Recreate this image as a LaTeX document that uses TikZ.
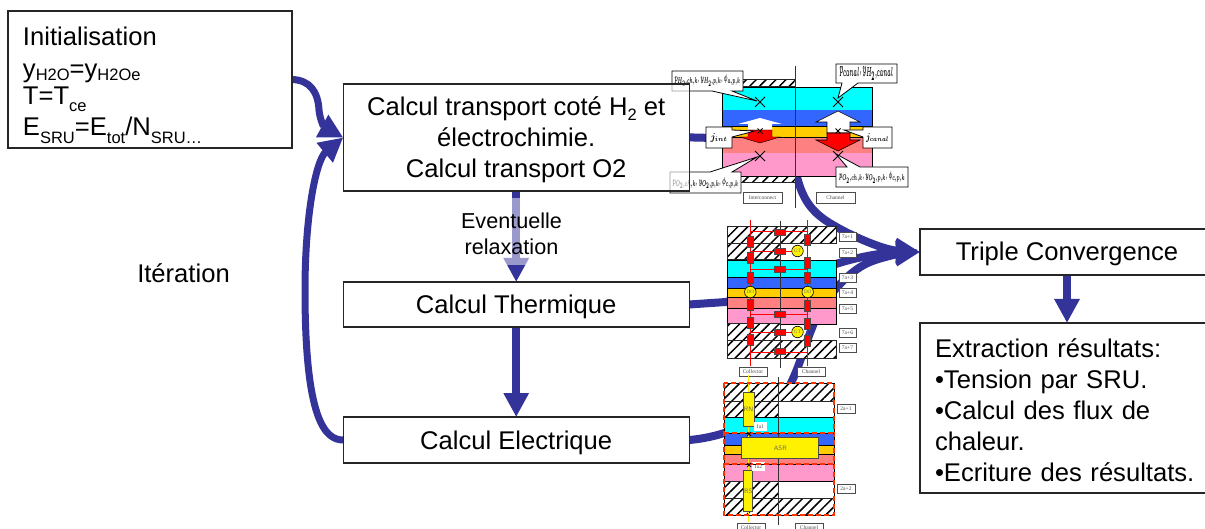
\documentclass[tikz,border=0pt]{standalone}
\usepackage{fontspec}
\usepackage{graphicx}
\setmainfont{Liberation Sans}
\newfontfamily\tinyserif{Liberation Serif}
\usetikzlibrary{arrows.meta,patterns.meta,calc}
\pgfdeclarelayer{flowlayer}
\pgfdeclarelayer{schem}
\pgfsetlayers{flowlayer,schem,main}
\definecolor{flowblue}{HTML}{333399}
\definecolor{cCyan}{HTML}{00FFFF}
\definecolor{cBlue}{HTML}{3366FF}
\definecolor{cOrange}{HTML}{FFCC00}
\definecolor{cSalmon}{HTML}{FF8080}
\definecolor{cPink}{HTML}{FF99CC}
\definecolor{dashred}{HTML}{FF3300}
\newcommand\sbs[2]{\raisebox{-#1pt}{\fontsize{16.5}{17}\selectfont #2}}
\newcommand\fsz{\fontsize{25.6}{31}\selectfont}
\newcommand\fitbub[2]{\resizebox{#1pt}{7pt}{#2}}
\tikzset{
  mainbox/.style={draw=black!85,line width=1.1pt,fill=white,fill opacity=.6,text opacity=1,inner sep=0pt,outer sep=0pt,font=\fsz,align=center},
  oneline/.style={text height=23pt,text depth=5pt},
  flow/.style={draw=flowblue,line width=8pt,-{Triangle[length=24pt,width=24pt]}},
  flowthin/.style={draw=flowblue,line width=7pt,-{Triangle[length=24pt,width=24pt]}},
  hatch/.style={draw=black!85,line width=1pt,preaction={fill=white},pattern={Lines[angle=45,distance=7pt,line width=1.5pt]},pattern color=black},
  band/.style={draw=black,line width=.8pt},
  bubble/.style={draw=black,line width=.8pt,fill=white},
  bubtext/.style={inner sep=0pt,font=\fontsize{6.5}{7}\selectfont\boldmath},
  bubbig/.style={inner sep=0pt,font=\fontsize{9}{9}\selectfont\boldmath},
  tag/.style={draw=black!70,line width=.7pt,fill=white,inner sep=0pt,outer sep=0pt,font=\fontsize{5.5}{6}\selectfont\tinyserif,text=black!70},
  resv/.style={draw=black!70,line width=.5pt,fill=red,minimum width=6pt,minimum height=11pt,inner sep=0pt},
  resh/.style={draw=black!70,line width=.5pt,fill=red,minimum width=11pt,minimum height=6pt,inner sep=0pt},
  probe/.style={circle,draw=black,line width=.6pt,fill=yellow,minimum size=11.5pt,inner sep=0pt,font=\fontsize{5}{5}\selectfont\tinyserif,text=black!60},
  yellowbox/.style={draw=black!70,line width=.8pt,fill=yellow,inner sep=0pt,font=\fontsize{6.5}{7}\selectfont\sffamily,text=black!60},
  cross/.style={line width=.9pt,draw=black},
}
\begin{document}
\begin{tikzpicture}[x=1pt,y=-1pt]
\useasboundingbox (0,0) rectangle (1205,529);
\clip (0,0) rectangle (1205,529);

% ---------- main boxes ----------
\node[mainbox,minimum width=284pt,minimum height=137pt,text width=254pt,align=left] (init) at (150,79.5)
 {\lineskiplimit=-100pt\fontsize{25.6}{27}\selectfont \rule{0pt}{30pt}Initialisation\\[5pt]
  y\sbs{3}{H2O}=y\sbs{3}{H2Oe}\\
  T=T\sbs{7}{ce}\\
  E\sbs{8}{SRU}=E\sbs{8}{tot}/N\sbs{8}{SRU…}};
\node[mainbox,minimum width=346pt,minimum height=107pt] (trans) at (516.2,137.5)
 {\rule{0pt}{24pt}Calcul transport coté H\sbs{5}{2} et\\électrochimie.\\Calcul transport O2};
\node[mainbox,oneline,minimum width=346pt,minimum height=45pt] (therm) at (516.2,304.5) {Calcul Thermique};
\node[mainbox,oneline,minimum width=346pt,minimum height=46pt] (elec) at (516.2,440) {Calcul Electrique};
\node[mainbox,oneline,minimum width=294pt,minimum height=46pt] (triple) at (1067,252) {Triple Convergence};
\node[mainbox,minimum width=294pt,minimum height=170pt,text width=264pt,align=left] (extr) at (1067,408)
 {\rule{0pt}{23pt}Extraction résultats:\\•Tension par SRU.\\•Calcul des flux de\\chaleur.\\•Ecriture des résultats.};
\node[inner sep=0pt,font=\fsz] (iter) at (183.5,273.5) {Itération};
\node[fill=white,fill opacity=.5,text opacity=1,inner sep=0pt,minimum width=101pt,minimum height=67pt,align=center,font=\fontsize{21.6}{26}\selectfont] (relax) at (511.5,232) {\rule{0pt}{20pt}Eventuelle\\relaxation};

% ---------- flow arrows ----------
\begin{pgfonlayer}{flowlayer}
\draw[flow] (trans.south) -- (therm.north);
\draw[flow] (therm.south) -- (elec.north);
\draw[flow] (triple.south) -- (extr.north);
\draw[flowthin] (init.east) .. controls (310,80) and (318,92) .. (319,110) .. controls (320,120) and (324,127) .. (trans.west);
\draw[flowthin] (elec.west) .. controls (325,440) and (305,420) .. (305,290) .. controls (305,215) and (316,160) .. (trans.west);
\draw[flow] (trans.east) .. controls (760,137) and (790,160) .. (797,177) .. controls (803,200) and (812,213) .. (833,225) .. controls (855,238) and (885,250) .. (triple.west);
\draw[flow] (therm.east) -- (726,302) -- (836,264) .. controls (860,256) and (890,252) .. (triple.west);
\draw[flow] (elec.east) .. controls (725,437) and (770,420) .. (790,385) .. controls (800,365) and (805,345) .. (812,328) .. controls (820,305) and (845,272) .. (870,262) .. controls (885,256) and (905,253) .. (triple.west);
\end{pgfonlayer}

\begin{pgfonlayer}{schem}
% ---------- schematic 1 ----------
\draw[hatch] (722,80) rectangle (795,87);
\draw[hatch] (722,176) rectangle (795,183);
\fill[cCyan] (722,87) rectangle (872,110);
\fill[cBlue] (722,110) rectangle (872,126);
\fill[cOrange] (722,126) rectangle (872,137);
\fill[cSalmon] (722,137) rectangle (872,153);
\fill[cPink] (722,153) rectangle (872,176);
\draw[band] (722,87) rectangle (872,176);
\draw[band] (722,126) -- (872,126) (722,137) -- (872,137);
\draw[line width=.8pt,draw=black!80] (795,66) -- (795,208);
% up and down arrows
\fill[white] (760,118) -- (782,124) -- (772,124) -- (772,131) -- (748,131) -- (748,124) -- (738,124) -- cycle;
\draw[fill=white,draw=black,line width=.6pt] (838,111) -- (860,122) -- (850,122) -- (850,133) -- (827,133) -- (827,122) -- (816,122) -- cycle;
\draw[fill=red,draw=black,line width=.4pt] (748,130) -- (772,130) -- (772,137) -- (780,137) -- (760,143) -- (740,137) -- (748,137) -- cycle;
\draw[fill=red,draw=black,line width=.6pt] (827,133) -- (850,133) -- (850,140) -- (860,140) -- (838,151) -- (816,140) -- (827,140) -- cycle;
% crosses
\foreach \cx/\cy/\cs in {760/102/5,838/102/5,760/156/5,838/156/5,760/131/2.5,838/131/2.5}
  \draw[cross] (\cx-\cs,\cy-\cs) -- (\cx+\cs,\cy+\cs) (\cx-\cs,\cy+\cs) -- (\cx+\cs,\cy-\cs);
% callouts
\draw[bubble] (672,71) -- (743,71) -- (743,91) -- (732,91) -- (757,101) -- (712,91) -- (672,91) -- cycle;
\node[bubtext] (c1) at (707.5,80.5) {\fitbub{66}{$p_{H_2,ch,k}$, $y_{H_2,p,k}$, $\phi_{a,p,k}$}};
\draw[bubble] (836,64) -- (897,64) -- (897,83) -- (858,83) -- (838,98) -- (842,83) -- (836,83) -- cycle;
\node[bubtext] (c2) at (866.5,73.5) {\fitbub{54}{$p_{canal}$, $y_{H_2,canal}$}};
\draw[bubble] (706,127) -- (732,127) -- (732,130) -- (755,131) -- (732,137) -- (732,148) -- (706,148) -- cycle;
\node[bubbig] (c3) at (719,137.5) {\fitbub{17}{$j_{int}$}};
\draw[bubble] (863,127) -- (892,127) -- (892,148) -- (863,148) -- (863,137) -- (844,130) -- (863,130) -- cycle;
\node[bubbig] (c4) at (877.5,137.5) {\fitbub{23}{$j_{canal}$}};
\draw[bubble] (670,172) -- (710,172) -- (757,157) -- (732,172) -- (741,172) -- (741,193) -- (670,193) -- cycle;
\node[bubtext] (c5) at (705.5,183) {\fitbub{66}{$p_{O_2,ch,k}$, $y_{O_2,p,k}$, $\phi_{c,p,k}$}};
\draw[bubble] (836,167) -- (847,167) -- (836,154) -- (860,167) -- (908,167) -- (908,187) -- (836,187) -- cycle;
\node[bubtext] (c6) at (872,177.5) {\fitbub{66}{$p_{O_2,ch,k}$, $y_{O_2,p,k}$, $\phi_{c,p,k}$}};
\node[tag,minimum width=39pt,minimum height=11pt] (t1a) at (762.5,197.5) {Interconnect};
\node[tag,minimum width=39pt,minimum height=11pt] (t1b) at (835.5,197.5) {Channel};

% ---------- schematic 2 ----------
\draw[hatch] (727,227) rectangle (836,244);
\draw[hatch] (727,244) rectangle (780,260);
\fill[cCyan] (727,260) rectangle (836,277);
\fill[cBlue] (727,277) rectangle (836,288);
\fill[cOrange] (727,288) rectangle (836,297);
\fill[cSalmon] (727,297) rectangle (836,308);
\fill[cPink] (727,308) rectangle (836,324);
\draw[band] (727,260) rectangle (836,324);
\draw[band] (727,277) -- (836,277) (727,288) -- (836,288) (727,297) -- (836,297) (727,308) -- (836,308);
\draw[hatch] (727,324) rectangle (780,341);
\draw[hatch] (727,341) rectangle (836,358);
\draw[line width=.7pt,draw=black!80] (780,221) -- (780,368);
\draw[red,line width=.9pt] (750.7,220) -- (750.7,366) (807.7,220) -- (807.7,366);
\foreach \ly in {231,269,314,352} \draw[red,line width=.9pt] (750.7,\ly) -- (807.7,\ly);
\foreach \ly in {251,332} \draw[red,line width=.9pt] (750.7,\ly) -- (797,\ly);
\foreach \ry [count=\ri] in {232,251,269,314,332,351} \node[resh] (rh\ri) at (780,\ry) {};
\foreach \ry [count=\ri] in {241.7,258,277.7,305,323,340} \node[resv] (rl\ri) at (750.7,\ry) {};
\foreach \ry [count=\ri] in {240,262.7,278,305.7,324,341} \node[resv] (rr\ri) at (807.7,\ry) {};
\node[probe] (gt1) at (797.5,251) {GT};
\node[probe] (gt2) at (797.5,332) {GT};
\node[probe] (do1) at (750.3,292) {DO};
\node[probe] (do2) at (807.7,292) {DO};
\foreach \ty/\tl [count=\ti] in {236.5/7a+1,252.5/7a+2,277.5/7a+3,292.5/7a+4,308.5/7a+5,332.5/7a+6,347.5/7a+7}
  \node[tag,minimum width=17pt,minimum height=9pt] (s\ti) at (847.5,\ty) {\tl};
\node[tag,minimum width=28pt,minimum height=9pt] (t2a) at (753,371.5) {Collector};
\node[tag,minimum width=28pt,minimum height=9pt] (t2b) at (811,371.5) {Channel};

% ---------- schematic 3 ----------
\fill[white] (778,401) rectangle (834,417);
\fill[white] (778,481) rectangle (834,498);
\draw[hatch] (724,383) rectangle (834,401);
\draw[hatch] (724,401) rectangle (778,417);
\fill[cCyan] (724,417) rectangle (834,433);
\fill[cBlue] (724,433) rectangle (834,445);
\fill[cOrange] (724,445) rectangle (834,454);
\fill[cSalmon] (724,454) rectangle (834,464);
\fill[cPink] (724,464) rectangle (834,481);
\draw[band] (724,417) -- (834,417) (724,481) -- (834,481) (724,445) -- (834,445) (724,454) -- (834,454);
\draw[hatch] (724,481) rectangle (778,498);
\draw[hatch] (724,498) rectangle (834,515);
\draw[line width=.7pt,draw=black!80] (778,377) -- (778,525);
\draw[yellow,line width=1pt] (748.7,375) -- (748.7,522);
\node[yellowbox,minimum width=11pt,minimum height=34pt] (rn) at (748.5,409) {RN};
\node[yellowbox,minimum width=9pt,minimum height=41pt] (rs) at (748.3,491.3) {RS};
\node[yellowbox,minimum width=77pt,minimum height=21pt] (asr) at (780.3,448.3) {ASR};
\node[fill=white,inner sep=0pt,minimum width=13pt,minimum height=9pt,font=\fontsize{5.5}{6}\selectfont\tinyserif,text=black!70] (ia1) at (760.5,426.5) {Ia1};
\node[fill=white,inner sep=0pt,minimum width=13pt,minimum height=9pt,font=\fontsize{5.5}{6}\selectfont\tinyserif,text=black!70] (ia2) at (758.5,466.5) {Ia2};
\draw[draw=black,line width=.8pt] (724,383) rectangle (834,515);
\draw[draw=dashred,line width=1.2pt,dash pattern=on 5pt off 3pt] (724,383) rectangle (834,515);
\draw[draw=black,line width=.8pt] (724,433) -- (834,433) (724,464) -- (834,464);
\draw[draw=dashred,line width=1.2pt,dash pattern=on 5pt off 3pt] (724,433) -- (834,433) (724,464) -- (834,464);
\foreach \cy in {434,465} \draw[line width=.7pt] (747,\cy-2) -- (751,\cy+2) (747,\cy+2) -- (751,\cy-2);
\node[tag,minimum width=18pt,minimum height=9pt] (u1) at (846,408.5) {2a+1};
\node[tag,minimum width=18pt,minimum height=9pt] (u2) at (846,489) {2a+2};
\node[tag,minimum width=28pt,minimum height=9pt] (t3a) at (751,528) {Collector};
\node[tag,minimum width=28pt,minimum height=9pt] (t3b) at (809,528) {Channel};
\end{pgfonlayer}
\end{tikzpicture}
\end{document}
